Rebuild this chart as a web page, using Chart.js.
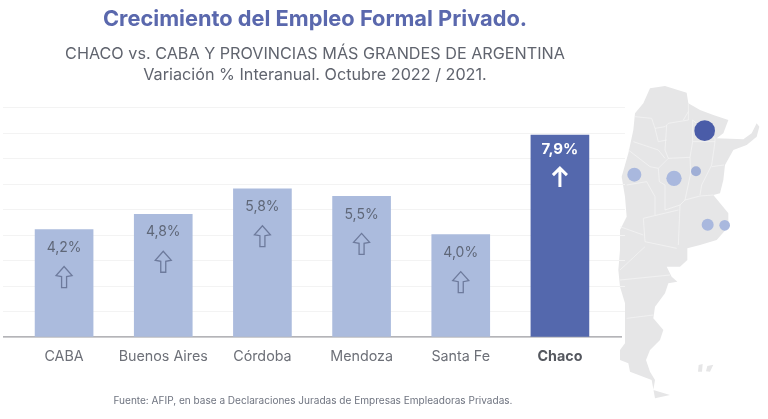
<!DOCTYPE html>
<html>
<head>
<meta charset="utf-8">
<script src="https://cdn.jsdelivr.net/npm/chart.js@4"></script>
<style>
  html, body { margin: 0; padding: 0; background: #fff; overflow: hidden; }
  #wrap { position: relative; width: 768px; height: 419px; }
  #map { position: absolute; left: 600px; top: 70px; width: 168px; height: 340px; }
  #c { position: absolute; left: 0; top: 0; }
  #fuente { position: absolute; left: 0; width: 626px; top: 394px; text-align: center;
    font: 10.05px Inter, sans-serif; color: #6f7480; }
</style>
</head>
<body>
<div id="wrap">
  <svg id="map" viewBox="0 0 504 1020">
    <path fill="#e6e6e7" d="M150 55 195 48 260 68 265 100 300 120 340 135 385 150 370 190 350 205 430 208 455 190 470 160 478 170 470 200 440 225 400 240 375 285 370 330 360 370 340 375 385 430 385 470 350 510 300 525 262 535 262 570 240 590 200 590 215 620 232 635 205 640 195 670 165 710 160 745 190 780 180 810 150 840 138 870 150 905 165 930 160 960 210 975 165 985 155 930 90 905 85 880 60 870 60 840 75 820 75 780 75 700 60 650 55 600 60 540 60 480 80 440 75 380 65 320 85 250 100 180 105 130 130 100Z"/>
    <path fill="#e6e6e7" d="M296 885 308 882 306 905 294 905ZM322 888 340 884 330 905 318 904Z"/>
    <g fill="none" stroke="#f6f6f6" stroke-width="2">
      <path d="M105 140 155 145 165 175 195 170 205 160 265 150 265 100"/>
      <path d="M250 150 265 125 M278 150 278 215 345 215 345 205 M278 150 345 205"/>
      <path d="M200 165 195 240 205 265 270 262 278 215"/>
      <path d="M270 262 272 310 255 390 M345 215 335 285 305 345 300 375 M335 290 372 285"/>
      <path d="M205 265 175 295 178 335 195 345 195 420 M255 390 240 405 195 420"/>
      <path d="M240 405 235 525 M255 390 300 378 340 375"/>
      <path d="M130 445 135 515 230 535 M130 445 235 420"/>
      <path d="M80 345 140 335 165 380 165 435 M60 470 130 495"/>
      <path d="M85 240 150 290 175 295 M100 215 175 240 195 265"/>
      <path d="M60 600 135 530 M60 630 210 615 M80 745 160 735 M165 175 175 215 200 210"/>
    </g>
    <circle cx="314" cy="182" r="31" fill="#4a5ca8"/>
    <circle cx="103" cy="314" r="21" fill="#a9b8de"/>
    <circle cx="222" cy="325" r="23" fill="#a9b8de"/>
    <circle cx="288" cy="304" r="15" fill="#a0afd6"/>
    <circle cx="323" cy="464" r="18" fill="#a9b8de"/>
    <circle cx="374" cy="466" r="16" fill="#a9b8de"/>
  </svg>
  <canvas id="c" width="630" height="419"></canvas>
  <div id="fuente">Fuente: AFIP, en base a Declaraciones Juradas de Empresas Empleadoras Privadas.</div>
</div>
<script>
var categories = ['CABA', 'Buenos Aires', 'Córdoba', 'Mendoza', 'Santa Fe', 'Chaco'];
var values = [4.2, 4.8, 5.8, 5.5, 4.0, 7.9];
var valueLabels = ['4,2%', '4,8%', '5,8%', '5,5%', '4,0%', '7,9%'];
var yMax = 9;
var highlight = 'Chaco';

var FONT = 'Inter, sans-serif';

// grid runs wider than the bars' category band, so it is drawn here from the y scale
var wideGrid = {
  id: 'wideGrid',
  beforeDatasetsDraw: function(chart) {
    var ctx = chart.ctx, y = chart.scales.y;
    ctx.save();
    for (var v = 1; v <= yMax; v++) {
      var py = Math.round(y.getPixelForValue(v)) + 0.5;
      ctx.strokeStyle = '#f3f3f3';
      ctx.lineWidth = 1;
      ctx.beginPath(); ctx.moveTo(3, py); ctx.lineTo(625, py); ctx.stroke();
    }
    var p0 = y.getPixelForValue(0);
    ctx.strokeStyle = '#9b9ba0';
    ctx.lineWidth = 1.3;
    ctx.beginPath(); ctx.moveTo(3, p0); ctx.lineTo(622, p0); ctx.stroke();
    ctx.restore();
  }
};

function arrowPath(ctx, x, top, solid) {
  ctx.beginPath();
  if (solid) {
    ctx.moveTo(x, top + 20); ctx.lineTo(x, top + 1);
    ctx.moveTo(x - 7, top + 8); ctx.lineTo(x, top + 1); ctx.lineTo(x + 7, top + 8);
  } else {
    ctx.moveTo(x - 2.5, top + 21);
    ctx.lineTo(x - 2.5, top + 10); ctx.lineTo(x - 8, top + 9);
    ctx.lineTo(x, top); ctx.lineTo(x + 8, top + 9);
    ctx.lineTo(x + 2.5, top + 10); ctx.lineTo(x + 2.5, top + 21);
    ctx.closePath();
  }
}

// label and arrow inside each bar
var barNotes = {
  id: 'barNotes',
  afterDatasetsDraw: function(chart) {
    var ctx = chart.ctx;
    chart.getDatasetMeta(0).data.forEach(function(bar, i) {
      var hot = categories[i] === highlight;
      ctx.save();
      ctx.textAlign = 'center';
      ctx.textBaseline = 'middle';
      ctx.fillStyle = hot ? '#ffffff' : '#5f6778';
      ctx.font = (hot ? 'bold 15px ' : '14px ') + FONT;
      ctx.fillText(valueLabels[i], bar.x, bar.y + (hot ? 14 : 18));
      ctx.strokeStyle = hot ? '#ffffff' : '#6d7a9c';
      ctx.lineWidth = hot ? 3 : 1.3;
      arrowPath(ctx, bar.x, bar.y + (hot ? 32 : 37), hot);
      ctx.stroke();
      ctx.restore();
    });
  }
};

new Chart(document.getElementById('c').getContext('2d'), {
  type: 'bar',
  data: {
    labels: categories,
    datasets: [{
      data: values,
      backgroundColor: categories.map(function(c) { return c === highlight ? '#5468ad' : '#abbbdd'; }),
      barThickness: 58
    }]
  },
  options: {
    responsive: false,
    animation: false,
    layout: { padding: { left: 14.5, right: 14.5, top: 6, bottom: 51 } },
    plugins: {
      legend: { display: false },
      tooltip: { enabled: false },
      title: {
        display: true,
        text: 'Crecimiento del Empleo Formal Privado.',
        color: '#5a68ad',
        font: { family: FONT, size: 21.8, weight: 'bold' },
        padding: { top: 0, bottom: 12 }
      },
      subtitle: {
        display: true,
        text: ['CHACO vs. CABA Y PROVINCIAS MÁS GRANDES DE ARGENTINA', 'Variación % Interanual. Octubre 2022 / 2021.'],
        color: '#60646e',
        font: { family: FONT, size: 16.2, lineHeight: 1.26 },
        padding: { top: 0, bottom: 22 }
      }
    },
    scales: {
      x: {
        grid: { display: false },
        border: { display: false },
        ticks: {
          color: function(c) { return categories[c.index] === highlight ? '#55585f' : '#6d7078'; },
          font: function(c) {
            return { family: FONT, size: 14.3, weight: categories[c.index] === highlight ? 'bold' : 'normal' };
          },
          padding: 3
        }
      },
      y: {
        position: 'right',
        min: 0,
        max: yMax,
        ticks: { display: false },
        grid: { display: false },
        border: { display: false },
        afterFit: function(s) { s.width = 6; }
      }
    }
  },
  plugins: [wideGrid, barNotes]
});
</script>
</body>
</html>
